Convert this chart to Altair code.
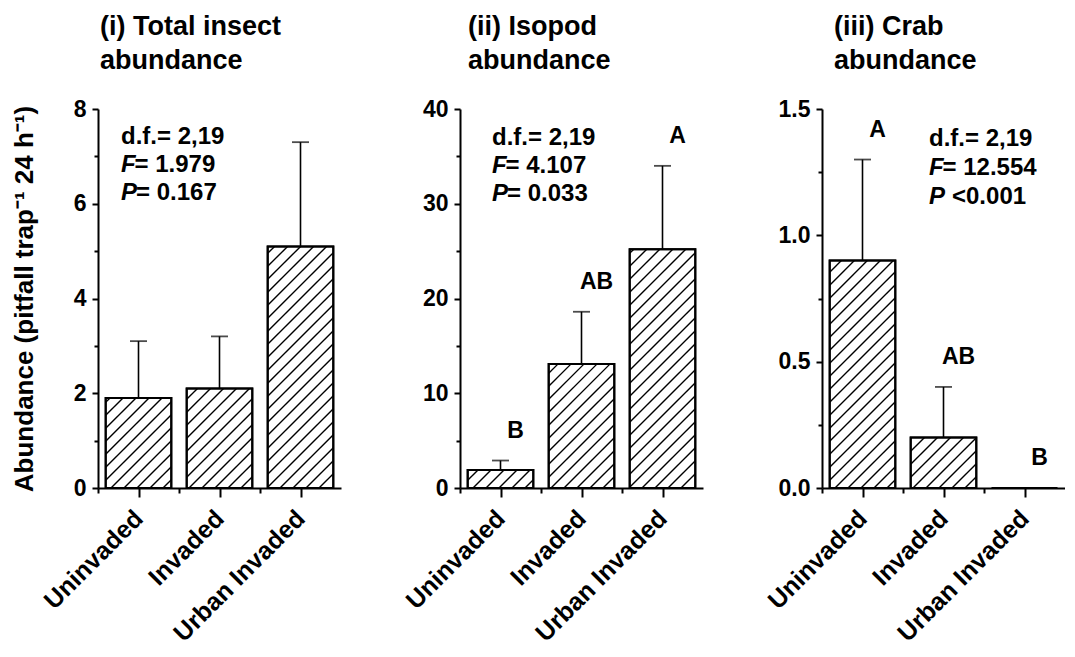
import math
import altair as alt
import pandas as pd

# ---------------- data ----------------
categories = ["Uninvaded", "Invaded", "Urban Invaded"]

insect_mean = [1.9, 2.1, 5.1]
insect_upper = [3.1, 3.2, 7.3]
insect_letters = ["", "", ""]

isopod_mean = [1.9, 13.1, 25.2]
isopod_upper = [2.9, 18.6, 34.0]
isopod_letters = ["B", "AB", "A"]

crab_mean = [0.9, 0.2, 0.0]
crab_upper = [1.3, 0.4, None]
crab_letters = ["A", "AB", "B"]

panel_titles = [["(i) Total insect", "abundance"],
                ["(ii) Isopod", "abundance"],
                ["(iii) Crab", "abundance"]]
stat_df = ["d.f.= 2,19", "d.f.= 2,19", "d.f.= 2,19"]
stat_F = ["= 1.979", "= 4.107", "= 12.554"]
stat_P = ["= 0.167", "= 0.033", "<0.001"]

y_max = [8, 40, 1.5]
y_minor_step = [1, 5, 0.25]
y_major_step = [2, 10, 0.5]
y_format = ["d", "d", ".1f"]
y_title = "Abundance (pitfall trap\u207b\u00b9 24 h\u207b\u00b9)"

# ---------------- style / layout ----------------
FONT = "Liberation Sans"
W, H = 243, 379
HALF_BAR = 0.405
HATCH_SPACING = 13
stat_pos = [(23, [28, 56, 84]), (32, [29, 57, 85]), (107, [30, 59, 88])]
stat_p_gap = [15, 15, 23]
title_dx = [2, 8, 12]


def hatch(lo_list, hi_list, vals, ymax):
    kx = W / 3.0
    ky = H / ymax
    rows = []
    for lo, hi, v in zip(lo_list, hi_list, vals):
        a = (lo + 0.5) * kx
        b = (hi + 0.5) * kx
        h = v * ky
        if h <= 0:
            continue
        k0 = math.floor((a - h) / HATCH_SPACING) - 1
        k1 = math.ceil(b / HATCH_SPACING) + 1
        for k in range(k0, k1 + 1):
            c = k * HATCH_SPACING
            q0 = max(0.0, a - c)
            q1 = min(h, b - c)
            if q1 - q0 > 0.5:
                rows.append({
                    "hx1": (q0 + c) / kx - 0.5, "hy1": q0 / ky,
                    "hx2": (q1 + c) / kx - 0.5, "hy2": q1 / ky,
                })
    return pd.DataFrame(rows)


def panel(i, means, uppers, letters):
    ymax = y_max[i]
    idx = list(range(len(categories)))
    lo = [j - HALF_BAR for j in idx]
    hi = [j + HALF_BAR for j in idx]
    bars = pd.DataFrame({"idx": idx, "cat": categories, "val": means,
                         "lo": lo, "hi": hi})
    err = pd.DataFrame([{"idx": j, "val": m, "err": u}
                        for j, m, u in zip(idx, means, uppers) if u is not None])
    lets = pd.DataFrame([{"idx": j, "top": (u if u is not None else m), "txt": t}
                         for j, m, u, t in zip(idx, means, uppers, letters) if t])

    xscale = alt.Scale(domain=[-0.5, 2.5], nice=False, zero=False)
    yscale = alt.Scale(domain=[0, ymax], nice=False)

    names = "[" + ",".join("'" + c + "'" for c in categories) + "]"
    xaxis = alt.Axis(
        title=None,
        values=[-0.5, 0, 0.5, 1, 1.5, 2],
        labelExpr=f"datum.value % 1 == 0 ? {names}[datum.value] : ''",
        labelAngle=-45, labelFontSize=25, labelPadding=17,
        labelAlign="right", labelBaseline="middle",
        labelOverlap=False, labelBound=False, labelFlush=False,
        tickSize={"condition": {"test": "datum.value % 1 == 0", "value": 9}, "value": 5},
        grid=False,
    )
    mstep = y_major_step[i]
    nminor = int(round(ymax / y_minor_step[i]))
    yvals = [round(k * y_minor_step[i], 4) for k in range(nminor + 1)]
    test = f"abs(datum.value / {mstep} - round(datum.value / {mstep})) < 1e-6"
    yaxis = alt.Axis(
        title=y_title if i == 0 else None,
        values=yvals, format=y_format[i],
        labelExpr=f"{test} ? datum.label : ''",
        labelFontSize=23, labelPadding=6,
        labelOverlap=False, labelFlush=False,
        tickSize={"condition": {"test": test, "value": 6}, "value": 4},
        titleFontSize=26, titlePadding=36,
        grid=False,
    )

    base_bar = alt.Chart(bars).mark_bar(fill="white", stroke="black", strokeWidth=2).encode(
        x=alt.X("lo:Q", scale=xscale, axis=xaxis),
        x2="hi:Q",
        y=alt.Y("val:Q", scale=yscale, axis=yaxis),
        y2=alt.datum(0),
    )
    layers = [base_bar]

    hd = hatch(lo, hi, means, ymax)
    if len(hd):
        layers.append(alt.Chart(hd).mark_rule(color="black", strokeWidth=1.4).encode(
            x=alt.X("hx1:Q", scale=xscale, axis=xaxis), x2="hx2:Q",
            y=alt.Y("hy1:Q", scale=yscale, axis=yaxis), y2="hy2:Q"))

    layers.append(alt.Chart(bars).mark_bar(fillOpacity=0, stroke="black", strokeWidth=2).encode(
        x=alt.X("lo:Q", scale=xscale, axis=xaxis), x2="hi:Q",
        y=alt.Y("val:Q", scale=yscale, axis=yaxis), y2=alt.datum(0)))

    if len(err):
        layers.append(alt.Chart(err).mark_rule(color="black", strokeWidth=1.6).encode(
            x=alt.X("idx:Q", scale=xscale, axis=xaxis),
            y=alt.Y("val:Q", scale=yscale, axis=yaxis), y2="err:Q"))
        layers.append(alt.Chart(err).mark_tick(color="black", orient="horizontal",
                                               size=17, thickness=1.8).encode(
            x=alt.X("idx:Q", scale=xscale, axis=xaxis),
            y=alt.Y("err:Q", scale=yscale, axis=yaxis)))

    if len(lets):
        layers.append(alt.Chart(lets).mark_text(font=FONT, fontSize=23, fontWeight="bold",
                                                color="black", dx=15, dy=-30,
                                                baseline="middle", align="center").encode(
            x=alt.X("idx:Q", scale=xscale, axis=xaxis),
            y=alt.Y("top:Q", scale=yscale, axis=yaxis),
            text="txt:N"))

    sx, sy = stat_pos[i]
    txt = dict(font=FONT, fontSize=24, fontWeight="bold", color="black",
               baseline="middle", align="left")
    one = pd.DataFrame({"a": [0]})
    layers.append(alt.Chart(one).mark_text(text=stat_df[i], **txt).encode(
        x=alt.value(sx), y=alt.value(sy[0])))
    layers.append(alt.Chart(one).mark_text(text="F", fontStyle="italic", **txt).encode(
        x=alt.value(sx), y=alt.value(sy[1])))
    layers.append(alt.Chart(one).mark_text(text=stat_F[i], **txt).encode(
        x=alt.value(sx + 13.5), y=alt.value(sy[1])))
    layers.append(alt.Chart(one).mark_text(text="P", fontStyle="italic", **txt).encode(
        x=alt.value(sx), y=alt.value(sy[2])))
    layers.append(alt.Chart(one).mark_text(text=stat_P[i], **txt).encode(
        x=alt.value(sx + stat_p_gap[i]), y=alt.value(sy[2])))

    return alt.layer(*layers).properties(
        width=W, height=H,
        title=alt.TitleParams(text=panel_titles[i], anchor="start", frame="group",
                              font=FONT, fontSize=27, fontWeight="bold", lineHeight=34,
                              offset=23, dx=title_dx[i], color="black"),
    )


p1 = panel(0, insect_mean, insect_upper, insect_letters)
p2 = panel(1, isopod_mean, isopod_upper, isopod_letters)
p3 = panel(2, crab_mean, crab_upper, crab_letters)

chart = alt.hconcat(p1, p2, p3, spacing=119, bounds="flush").properties(
    padding={"left": 3, "top": 5, "right": 0, "bottom": 0}
).configure_view(stroke=None).configure_axis(
    domainColor="black", domainWidth=2, tickColor="black", tickWidth=2,
    labelColor="black", labelFont=FONT, labelFontWeight="bold",
    titleColor="black", titleFont=FONT, titleFontWeight="bold",
)

chart.save("out.html", embed_options={"renderer": "svg", "actions": False})
